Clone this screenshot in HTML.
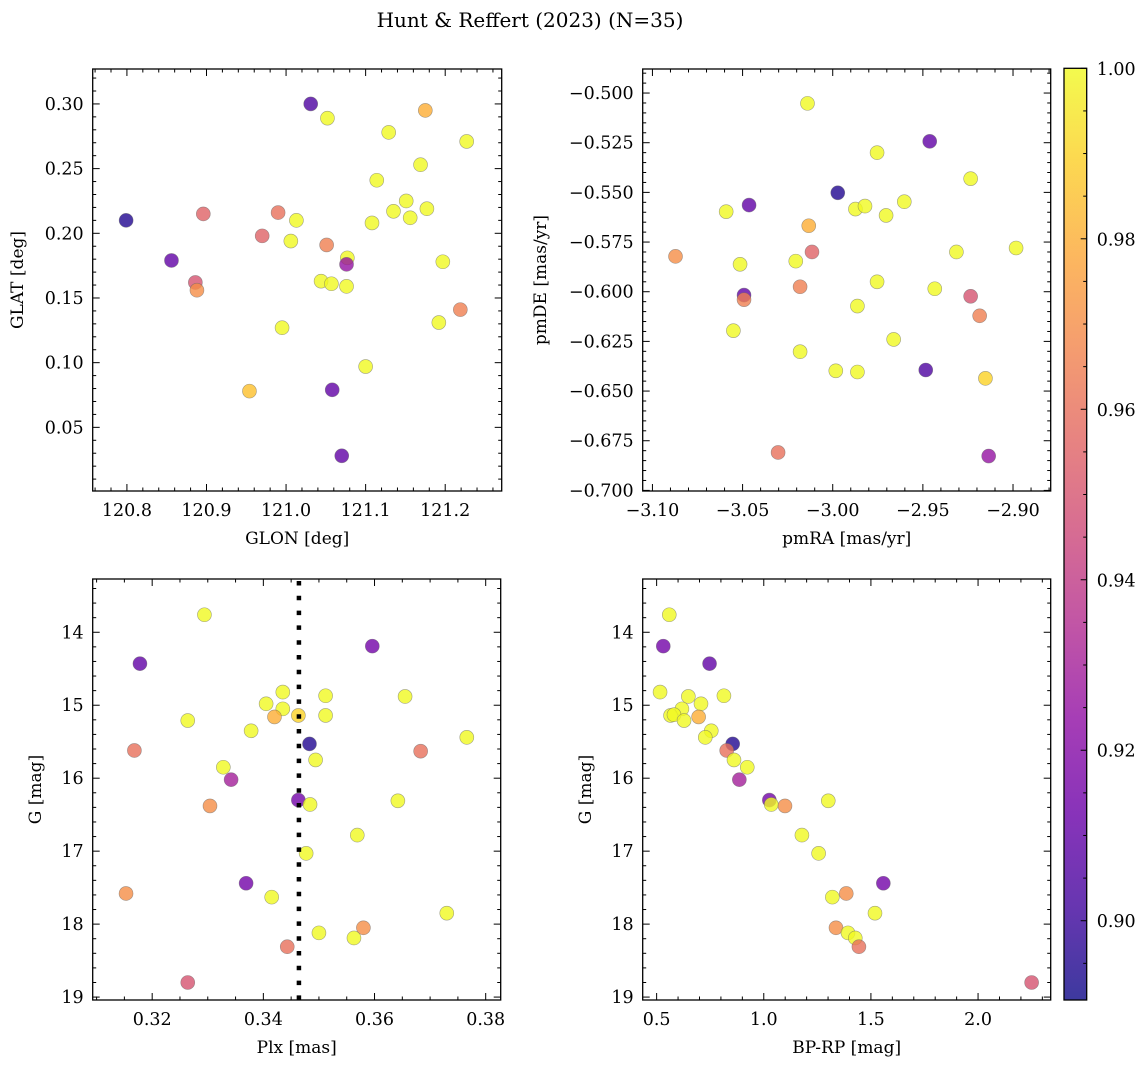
<!DOCTYPE html>
<html><head><meta charset="utf-8"><style>
html,body{margin:0;padding:0;background:#fff;}
svg{display:block;font-family:"DejaVu Serif","Liberation Serif",serif;}
</style></head><body>
<svg id="fig" xmlns="http://www.w3.org/2000/svg" width="1148" height="1068" viewBox="0 0 1148 1068">
<text x="530" y="27" font-size="20" text-anchor="middle">Hunt &amp; Reffert (2023) (N=35)</text>
</svg>
<script>
// ---- data: top-left (GLON vs GLAT)
const tlGlon=[120.799,120.856,120.896,120.886,120.888,120.990,120.970,121.013,121.006,121.031,121.052,121.051,121.077,121.076,121.044,121.057,121.076,120.995,120.954,121.058,121.070,121.100,121.108,121.114,121.129,121.135,121.151,121.156,121.169,121.175,121.177,121.197,121.192,121.219,121.227];
const tlGlat=[0.210,0.179,0.215,0.162,0.156,0.216,0.198,0.210,0.194,0.300,0.289,0.191,0.181,0.176,0.163,0.161,0.159,0.127,0.078,0.079,0.028,0.097,0.208,0.241,0.278,0.217,0.225,0.212,0.253,0.295,0.219,0.178,0.131,0.141,0.271];
const tlProb=[0.895,0.91,0.955,0.95,0.97,0.96,0.955,1,1,0.905,1,0.965,1,0.925,1,1,1,1,0.985,0.91,0.91,1,1,1,1,1,1,1,1,0.98,1,1,1,0.965,1];
// ---- top-right (pmRA vs pmDE)
const trPmra=[-3.0872,-3.0591,-3.0464,-3.0514,-3.0492,-3.0492,-3.0551,-3.0140,-3.0133,-2.9972,-3.0115,-3.0205,-3.0181,-3.0181,-3.0303,-2.9983,-2.9874,-2.9821,-2.9863,-2.9863,-2.9754,-2.9754,-2.9704,-2.9662,-2.9603,-2.9462,-2.9434,-2.9484,-2.9314,-2.9235,-2.9235,-2.9185,-2.9153,-2.9135,-2.8983];
const trPmde=[-0.5822,-0.5597,-0.5564,-0.5862,-0.6017,-0.6040,-0.6196,-0.5052,-0.5668,-0.5502,-0.5800,-0.5846,-0.5975,-0.6302,-0.6809,-0.6398,-0.5584,-0.5569,-0.6072,-0.6404,-0.5300,-0.5950,-0.5616,-0.6240,-0.5547,-0.5243,-0.5985,-0.6394,-0.5800,-0.5431,-0.6023,-0.6121,-0.6436,-0.6827,-0.5780];
const trProb=[0.97,1,0.91,1,0.91,0.965,1,1,0.98,0.895,0.955,1,0.965,1,0.96,1,1,1,1,1,1,1,1,1,1,0.91,1,0.905,1,1,0.95,0.965,0.99,0.925,1];
// ---- bottom-left (Plx vs G)
const blPlx=[0.3294,0.3178,0.3596,0.3435,0.3512,0.3655,0.3405,0.3435,0.3264,0.3420,0.3463,0.3512,0.3378,0.3766,0.3483,0.3168,0.3683,0.3494,0.3328,0.3342,0.3463,0.3484,0.3642,0.3304,0.3569,0.3477,0.3369,0.3153,0.3415,0.3730,0.3500,0.3580,0.3563,0.3443,0.3264];
const blG=[13.76,14.43,14.19,14.82,14.87,14.88,14.98,15.05,15.21,15.16,15.14,15.14,15.35,15.44,15.53,15.62,15.63,15.75,15.85,16.02,16.30,16.36,16.31,16.38,16.78,17.03,17.44,17.58,17.63,17.85,18.12,18.05,18.19,18.31,18.80];
const blProb=[1,0.91,0.915,1,1,1,1,1,1,0.98,0.99,1,1,1,0.895,0.96,0.96,1,1,0.93,0.915,1,1,0.97,1,1,0.915,0.97,1,1,1,0.97,1,0.96,0.95];
const meanPlx=0.3464;
// ---- bottom-right (BP-RP vs G)
const brColor=[0.559,0.531,0.747,0.516,0.648,0.814,0.707,0.618,0.565,0.581,0.696,0.628,0.755,0.727,0.855,0.827,0.861,0.923,0.886,1.026,1.035,1.099,1.301,1.178,1.256,1.558,1.385,1.320,1.519,1.337,1.393,1.427,1.444,2.250];
const brG=[13.76,14.19,14.43,14.82,14.88,14.87,14.98,15.05,15.14,15.13,15.16,15.21,15.35,15.44,15.53,15.62,15.75,15.85,16.02,16.30,16.36,16.38,16.31,16.78,17.03,17.44,17.58,17.63,17.85,18.05,18.12,18.19,18.31,18.80];
const brProb=[1,0.915,0.91,1,1,1,1,1,1,1,0.98,1,1,1,0.895,0.96,1,1,0.93,0.915,1,0.97,1,1,1,0.915,0.97,1,1,0.97,1,1,0.96,0.95];
// ---- tick labels
const tlXTicks=[120.8,120.9,121.0,121.1,121.2];
const tlYTicks=[0.05,0.10,0.15,0.20,0.25,0.30];
const trXTicks=[-3.10,-3.05,-3.00,-2.95,-2.90];
const trYTicks=[-0.700,-0.675,-0.650,-0.625,-0.600,-0.575,-0.550,-0.525,-0.500];
const blXTicks=[0.32,0.34,0.36,0.38];
const gTicks=[14,15,16,17,18,19];
const brXTicks=[0.5,1.0,1.5,2.0];
const cbTicks=[0.90,0.92,0.94,0.96,0.98,1.00];

const NS="http://www.w3.org/2000/svg";
const svg=document.getElementById('fig');
function mk(tag,attrs,parent){const e=document.createElementNS(NS,tag);for(const k in attrs)e.setAttribute(k,attrs[k]);(parent||svg).appendChild(e);return e;}
const plasma=[[13,8,135],[65,4,157],[106,0,168],[143,13,164],[177,42,144],[204,71,120],[225,100,98],[242,132,75],[252,166,54],[252,206,37],[240,249,33]];
const vmin=0.8907,vmax=1.0;
function cmap(t){t=Math.max(0,Math.min(1,t));const f=t*10,i=Math.min(9,Math.floor(f)),r=f-i;const a=plasma[i],b=plasma[i+1];return 'rgb('+[0,1,2].map(k=>Math.round(a[k]+(b[k]-a[k])*r)).join(',')+')';}
function fmtMinus(s){return s.replace('-','\u2212');}
const TFS=17.5, LFS=17;

function panel(o){
  const g=mk('g',{});
  
  
  const X=v=>o.L+(v-o.x0)/(o.x1-o.x0)*(o.R-o.L);
  const Y=v=>o.B-(v-o.y0)/(o.y1-o.y0)*(o.B-o.T);
  const tk=mk('g',{stroke:'#000','stroke-width':1},g);
  
  
  const lo=Math.min(o.x0,o.x1),hi=Math.max(o.x0,o.x1);
  for(let v=Math.ceil(lo/o.xmin-1e-6)*o.xmin;v<=hi+1e-9;v+=o.xmin){
    const isMaj=Math.abs(v/o.xmaj-Math.round(v/o.xmaj))<1e-4;const len=isMaj?7:3.5;const x=X(v);
    mk('line',{x1:x,x2:x,y1:o.B,y2:o.B-len},tk);mk('line',{x1:x,x2:x,y1:o.T,y2:o.T+len},tk);}
  const ylo=Math.min(o.y0,o.y1),yhi=Math.max(o.y0,o.y1);
  for(let v=Math.ceil(ylo/o.ymin-1e-6)*o.ymin;v<=yhi+1e-9;v+=o.ymin){
    const isMaj=Math.abs(v/o.ymaj-Math.round(v/o.ymaj))<1e-4;const len=isMaj?7:3.5;const y=Y(v);
    mk('line',{x1:o.L,x2:o.L+len,y1:y,y2:y},tk);mk('line',{x1:o.R,x2:o.R-len,y1:y,y2:y},tk);}
  o.xt.forEach(v=>{const t=mk('text',{x:X(v),y:o.B+25,'font-size':TFS,'text-anchor':'middle'},g);t.textContent=fmtMinus(v.toFixed(o.xd));
    });
  o.yt.forEach(v=>{const t=mk('text',{x:o.L-9,y:Y(v)+6,'font-size':TFS,'text-anchor':'end'},g);t.textContent=fmtMinus(v.toFixed(o.yd));
    });
  const xl=mk('text',{x:(o.L+o.R)/2,y:o.B+53,'font-size':LFS,'text-anchor':'middle'},g);xl.textContent=o.xlab;
  
  const yl=mk('text',{x:0,y:0,'font-size':LFS,'text-anchor':'middle',transform:'translate('+o.ylx+','+(o.T+o.B)/2+') rotate(-90)'},g);yl.textContent=o.ylab;
  
  o.xs.forEach((xv,i)=>{const c=mk('circle',{cx:X(xv),cy:Y(o.ys[i]),r:7,fill:cmap((o.ps[i]-vmin)/(vmax-vmin)),'fill-opacity':0.8,stroke:'#666','stroke-opacity':0.6,'stroke-width':0.6},g);
    });
  if(o.vline!==undefined){const vx=X(o.vline);const l=mk('line',{x1:vx,x2:vx,y1:o.T+2,y2:o.B,stroke:'#000','stroke-width':4.5,'stroke-dasharray':'4.5 10.3'},g);
    }
  const fr=mk('rect',{x:o.L,y:o.T,width:o.R-o.L,height:o.B-o.T,fill:'none',stroke:'#000','stroke-width':1.3},g);
  
}
panel({name:'glon-glat-panel',L:92.7,R:501.7,T:69,B:491,x0:120.757,x1:121.271,y0:0.0008,y1:0.327,xmaj:0.1,xmin:0.02,ymaj:0.05,ymin:0.01,xt:tlXTicks,yt:tlYTicks,xd:1,yd:2,xlab:'GLON [deg]',ylab:'GLAT [deg]',ylx:23,xs:tlGlon,ys:tlGlat,ps:tlProb});
panel({name:'pm-panel',L:642.7,R:1050.7,T:69,B:491,x0:-3.1054,x1:-2.8791,y0:-0.7003,y1:-0.4879,xmaj:0.05,xmin:0.01,ymaj:0.025,ymin:0.005,xt:trXTicks,yt:trYTicks,xd:2,yd:3,xlab:'pmRA [mas/yr]',ylab:'pmDE [mas/yr]',ylx:546,xs:trPmra,ys:trPmde,ps:trProb});
panel({name:'plx-g-panel',L:92.7,R:500.7,T:579,B:1000,x0:0.3093,x1:0.3827,y0:19.04,y1:13.27,xmaj:0.02,xmin:0.005,ymaj:1,ymin:0.2,xt:blXTicks,yt:gTicks,xd:2,yd:0,xlab:'Plx [mas]',ylab:'G [mag]',ylx:41,xs:blPlx,ys:blG,ps:blProb,vline:meanPlx});
panel({name:'cmd-panel',L:642.7,R:1050.7,T:579,B:1000,x0:0.435,x1:2.339,y0:19.04,y1:13.27,xmaj:0.5,xmin:0.1,ymaj:1,ymin:0.2,xt:brXTicks,yt:gTicks,xd:1,yd:0,xlab:'BP-RP [mag]',ylab:'G [mag]',ylx:591,xs:brColor,ys:brG,ps:brProb});

// colorbar
const cb={L:1064,R:1086.7,T:68.3,B:1000};
const defs=mk('defs',{});const lg=mk('linearGradient',{id:'pl',x1:0,y1:1,x2:0,y2:0},defs);
plasma.forEach((c,i)=>mk('stop',{offset:(i/10),'stop-color':'rgb('+c.join(',')+')','stop-opacity':0.8},lg));
const cbg=mk('g',{});

mk('rect',{x:cb.L,y:cb.T,width:cb.R-cb.L,height:cb.B-cb.T,fill:'url(#pl)',stroke:'#000','stroke-width':1.3},cbg);
const CY=v=>cb.B-(v-vmin)/(vmax-vmin)*(cb.B-cb.T);
for(let k=Math.ceil(vmin/0.005);k*0.005<=vmax+1e-9;k++){const v=k*0.005;const y=CY(v);const maj=Math.abs(v/0.02-Math.round(v/0.02))<1e-4;
  mk('line',{x1:cb.R,x2:cb.R-(maj?6:3.5),y1:y,y2:y,stroke:'#000','stroke-width':1},cbg);}
cbTicks.forEach(v=>{const t=mk('text',{x:cb.R+10,y:CY(v)+6.5,'font-size':TFS},cbg);t.textContent=v.toFixed(2);
  });
</script>
</body></html>
